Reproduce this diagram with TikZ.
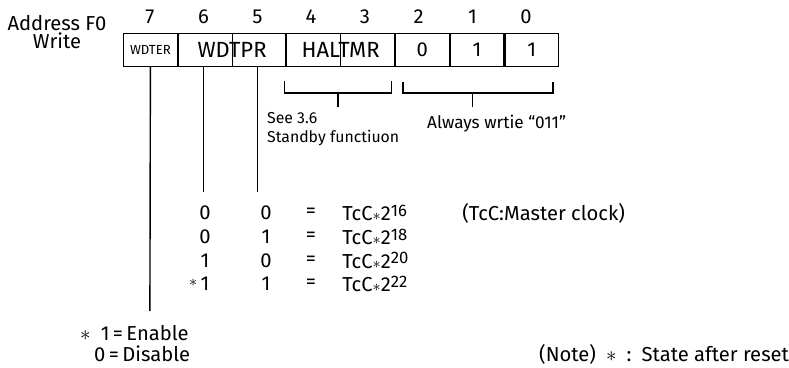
\documentclass[tikz,border=0pt]{standalone}
\usepackage{fontspec}
\setmainfont{Fira Sans}
\usepackage{tikz}
\usetikzlibrary{positioning}
\newcommand{\tccpow}[1]{TcC{\small$\ast$}2\raisebox{0.45ex}{\fontsize{9.5}{10}\selectfont #1}}

\begin{document}
\begin{tikzpicture}[x=0.02cm, y=-0.02cm, font=\fontsize{11.5}{10.5}\selectfont,
    regcell/.style={draw, line width=0.6pt, minimum height=0.66cm, inner sep=0pt, anchor=north west},
    wire/.style={line width=0.8pt},
    tabcell/.style={inner sep=0pt}]
    \useasboundingbox (0,0) rectangle (789,368);
    % register F0
    \node[regcell, minimum width=1.075cm, font=\fontsize{7.5}{8}\selectfont] (wdter) at (123,33) {WDTER};
    \node[regcell, minimum width=2.15cm, font=\fontsize{12.5}{14}\selectfont, right=0pt of wdter] (wdtpr) {WDTPR};
    \node[regcell, minimum width=2.15cm, font=\fontsize{12.5}{14}\selectfont, right=0pt of wdtpr] (haltmr) {HALTMR};
    \node[regcell, minimum width=1.075cm, right=0pt of haltmr] (b2) {0};
    \node[regcell, minimum width=1.075cm, right=0pt of b2] (b1) {1};
    \node[regcell, minimum width=1.075cm, right=0pt of b1] (b0) {1};
    \draw[line width=0.6pt] (wdtpr.north) -- (wdtpr.south);
    \draw[line width=0.6pt] (haltmr.north) -- (haltmr.south);

    \node[align=center] (addr) at (57,32) {Address F0\\Write};
    \node (bit7) at (149.9,17) {7};
    \node (bit6) at (203.6,17) {6};
    \node (bit5) at (257.4,17) {5};
    \node (bit4) at (311.1,17) {4};
    \node (bit3) at (364.9,17) {3};
    \node (bit2) at (418.6,17) {2};
    \node (bit1) at (472.4,17) {1};
    \node (bit0) at (526.1,17) {0};

    % brackets
    \draw[wire] (284.25,81) |- (391.75,93) -- (391.75,81);
    \draw[wire] (338,93) -- (338,107);
    \draw[wire] (403,82) |- (553,93) -- (553,82);
    \draw[wire] (472.4,93) -- (472.4,107);
    \node[anchor=west, align=left, font=\fontsize{9}{10.8}\selectfont] (standby) at (261,129) {See 3.6\\Standby functiuon};
    \node[anchor=west, font=\fontsize{9.8}{11}\selectfont] (always) at (421,124) {Always wrtie “011”};

    % select lines
    \coordinate (wdterend) at (149.9,311);
    \coordinate (sel6end) at (203.6,192);
    \coordinate (sel5end) at (257.4,192);
    \draw[wire] (wdter.south) -- (wdterend);
    \draw[wire] (bit6 |- wdtpr.south) -- (sel6end);
    \draw[wire] (bit5 |- wdtpr.south) -- (sel5end);

    % WDTPR table
    \node[tabcell] (r1a) at (205,213) {0};
    \node[tabcell] (r1b) at (266,213) {0};
    \node[tabcell] (r1eq) at (311,213) {=};
    \node[tabcell, anchor=west] (r1val) at (342,213) {\tccpow{16}};
    \node[tabcell] (r2a) at (205,237) {0};
    \node[tabcell] (r2b) at (266,237) {1};
    \node[tabcell] (r2eq) at (311,237) {=};
    \node[tabcell, anchor=west] (r2val) at (342,237) {\tccpow{18}};
    \node[tabcell] (r3a) at (205,260.5) {1};
    \node[tabcell] (r3b) at (266,260.5) {0};
    \node[tabcell] (r3eq) at (311,260.5) {=};
    \node[tabcell, anchor=west] (r3val) at (342,260.5) {\tccpow{20}};
    \node[tabcell] (r4a) at (205,284) {\llap{\raisebox{0.4ex}{\small$\ast$}\,}1};
    \node[tabcell] (r4b) at (266,284) {1};
    \node[tabcell] (r4eq) at (311,284) {=};
    \node[tabcell, anchor=west] (r4val) at (342,284) {\tccpow{22}};
    \node[tabcell, anchor=west] (clock) at (462,213) {(TcC:Master clock)};

    % WDTER values and note
    \node[anchor=west] (enable) at (74,333) {$\ast$\hspace{0.5em}1\,=\,Enable};
    \node[anchor=west] (disable) at (88,354) {0\,=\,Disable};
    \node[anchor=west] (note) at (533,354) {(Note)\enspace$\ast$\enspace:\enspace State after reset};
\end{tikzpicture}
\end{document}
